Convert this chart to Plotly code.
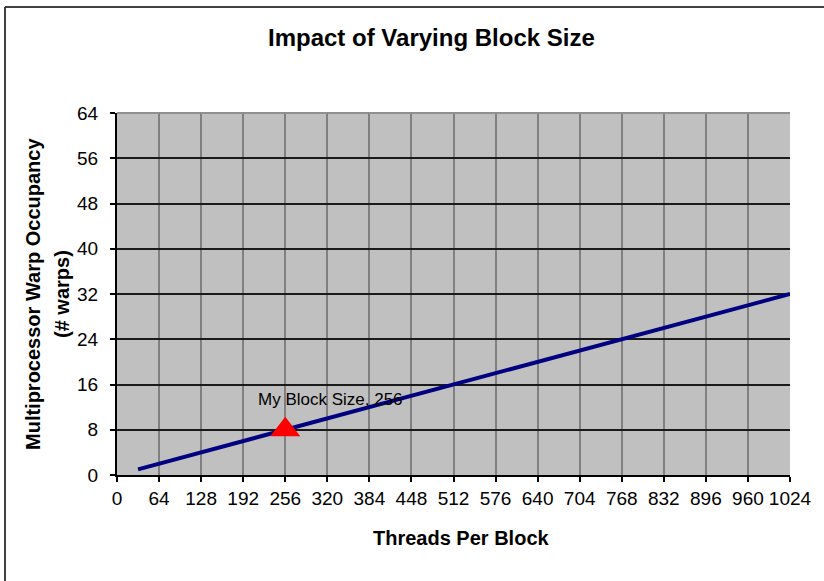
import plotly.graph_objects as go

# Threads per block swept in warp-sized steps, and resulting warps per multiprocessor
threads_per_block = [32, 64, 96, 128, 160, 192, 224, 256, 288, 320, 352, 384, 416, 448, 480, 512,
                     544, 576, 608, 640, 672, 704, 736, 768, 800, 832, 864, 896, 928, 960, 992, 1024]
warp_occupancy = [1, 2, 3, 4, 5, 6, 7, 8, 9, 10, 11, 12, 13, 14, 15, 16,
                  17, 18, 19, 20, 21, 22, 23, 24, 25, 26, 27, 28, 29, 30, 31, 32]

my_block_size = [256]
my_occupancy = [8]

x_ticks = [0, 64, 128, 192, 256, 320, 384, 448, 512, 576, 640, 704, 768, 832, 896, 960, 1024]
y_ticks = [0, 8, 16, 24, 32, 40, 48, 56, 64]

FONT = "Arial, Liberation Sans, sans-serif"

fig = go.Figure()

fig.add_trace(go.Scatter(
    x=threads_per_block, y=warp_occupancy, mode="lines",
    line=dict(color="#000080", width=4),
    hoverinfo="skip", showlegend=False,
))

fig.add_trace(go.Scatter(
    x=my_block_size, y=my_occupancy, mode="markers",
    marker=dict(symbol="triangle-up", size=26, color="#ff0000", line=dict(width=0)),
    showlegend=False,
))

fig.add_annotation(
    x=my_block_size[0], y=my_occupancy[0], xref="x", yref="y",
    text=f"My Block Size, {my_block_size[0]}",
    showarrow=False, xanchor="left", yanchor="middle", xshift=-29, yshift=30,
    font=dict(family=FONT, size=17, color="#000000"),
)

# Chart title and axis titles
fig.add_annotation(
    x=(431 - 117) / 673, y=(475 - 37) / 362, xref="paper", yref="paper",
    text="<b>Impact of Varying Block Size</b>", showarrow=False,
    xanchor="center", yanchor="middle",
    font=dict(family=FONT, size=24, color="#000000"),
)
fig.add_annotation(
    x=(462 - 117) / 673, y=(475 - 538) / 362, xref="paper", yref="paper",
    text="<b>Threads Per Block</b>", showarrow=False,
    xanchor="center", yanchor="middle",
    font=dict(family=FONT, size=20, color="#000000"),
)
for label, px in (("<b>Multiprocessor Warp Occupancy</b>", 33), ("<b>(# warps)</b>", 62)):
    fig.add_annotation(
        x=(px - 117) / 673, y=0.5, xref="paper", yref="paper",
        text=label, showarrow=False,
        textangle=-90, xanchor="center", yanchor="middle",
        font=dict(family=FONT, size=20, color="#000000"),
    )

# Outer frame (top and left edges) and grey top border of the plot area
frame = dict(color="#404040", width=2)
fig.add_shape(type="line", xref="paper", yref="paper",
              x0=(5 - 117) / 673, x1=(824 - 117) / 673,
              y0=(475 - 7) / 362, y1=(475 - 7) / 362, line=frame)
fig.add_shape(type="line", xref="paper", yref="paper",
              x0=(5 - 117) / 673, x1=(5 - 117) / 673,
              y0=(475 - 7) / 362, y1=(475 - 581) / 362, line=frame)
fig.add_shape(type="line", xref="paper", yref="paper", layer="above",
              x0=0, x1=1, y0=1, y1=1, line=dict(color="#909090", width=2))

fig.update_xaxes(
    range=[0, 1024], tickmode="array", tickvals=x_ticks,
    ticktext=[str(v) for v in x_ticks],
    showgrid=True, gridcolor="#808080", gridwidth=2,
    showline=True, linecolor="#000000", linewidth=2,
    ticks="outside", ticklen=5, tickwidth=2, tickcolor="#000000",
    tickfont=dict(family=FONT, size=19, color="#000000"),
    zeroline=False, fixedrange=True,
)
fig.update_yaxes(
    range=[0, 64], tickmode="array", tickvals=y_ticks,
    ticktext=[str(v) for v in y_ticks],
    showgrid=True, gridcolor="#1a1a1a", gridwidth=2,
    showline=True, linecolor="#000000", linewidth=2,
    ticks="outside", ticklen=5, tickwidth=2, tickcolor="#000000",
    tickfont=dict(family=FONT, size=19, color="#000000"),
    ticklabelstandoff=8,
    zeroline=False, fixedrange=True,
)

fig.update_layout(
    width=824, height=581,
    margin=dict(l=117, r=34, t=113, b=106),
    paper_bgcolor="#ffffff", plot_bgcolor="#c0c0c0",
    showlegend=False,
)

fig.write_html("out.html")
